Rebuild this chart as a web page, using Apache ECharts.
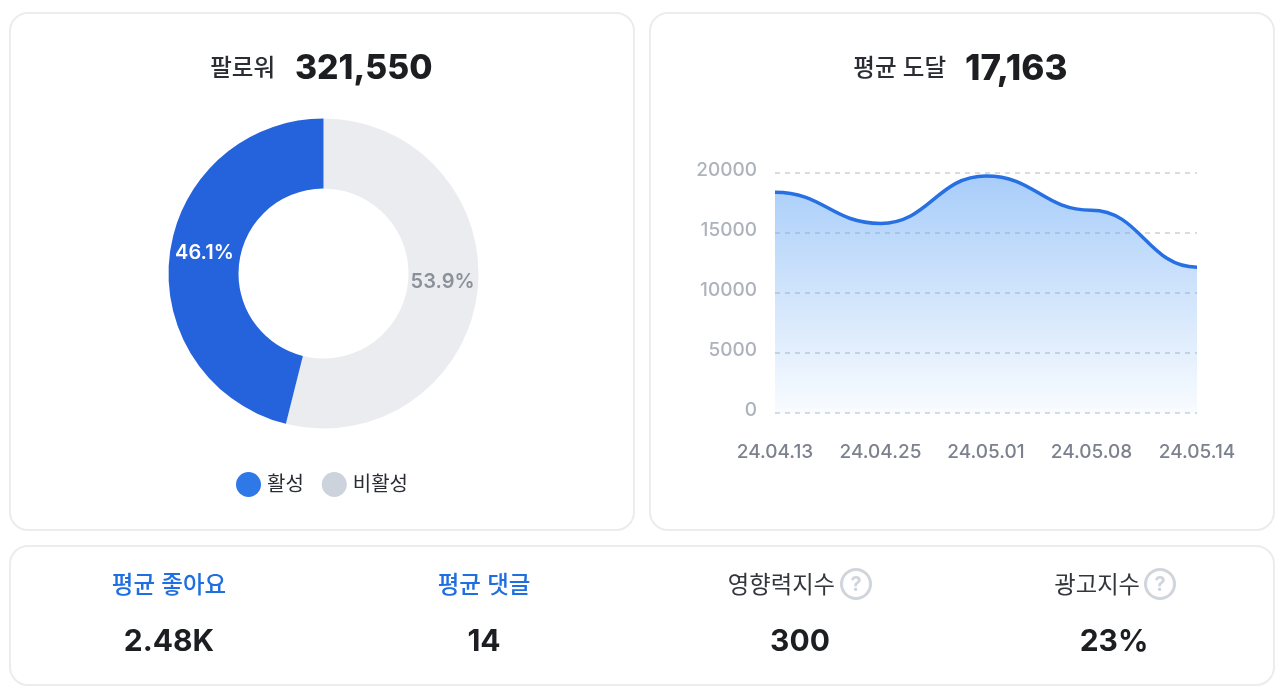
<!DOCTYPE html>
<html><head><meta charset="utf-8">
<style>html,body{margin:0;padding:0;background:#fff}#c{width:1280px;height:688px}</style>
<script src="https://cdn.jsdelivr.net/npm/echarts@6/dist/echarts.min.js"></script>
</head><body><div id="c"></div>
<script>
var FONT = "Inter,'Noto Sans CJK KR',sans-serif";
var pieNames = ['비활성', '활성'];
var pieValues = [53.9, 46.1];
var dates = ['', '24.04.13', '24.04.25', '24.05.01', '24.05.08', '24.05.14', ''];
// first and last entries sit outside the visible axis range and only keep the curve flat at its ends
var reach = [18400, 18400, 15800, 19750, 16900, 12150, 12150];
var yTicks = {min: 0, max: 20000, interval: 5000};

function card(x, y, w, h) {
  return {type: 'rect', silent: true, z: 0, shape: {x: x, y: y, width: w, height: h, r: 18},
    style: {fill: '#fff', stroke: '#ebecef', lineWidth: 2}};
}
function txt(x, y, s, size, weight, color, align) {
  return {type: 'text', silent: true, z: 5, x: x, y: y,
    style: {text: s, font: weight + ' ' + size + 'px ' + FONT, fill: color, align: align || 'center', verticalAlign: 'middle'}};
}
function help(x, y) {
  return [
    {type: 'circle', silent: true, z: 5, shape: {cx: x, cy: y, r: 14.5}, style: {fill: '#fff', stroke: '#d0d5dc', lineWidth: 3}},
    txt(x, y + 1, '?', 20, 700, '#d0d5dc')
  ];
}
function mask(x) {
  return {type: 'rect', silent: true, z: 10, shape: {x: x, y: 165, width: 5, height: 255}, style: {fill: '#fff'}};
}
var graphics = [
  card(10, 13, 624, 517), card(650, 13, 624, 517), card(10, 546, 1264, 139),
  mask(770), mask(1197),
  txt(275, 69, '팔로워', 23.5, 500, '#2a2d33', 'right'),
  txt(295, 69, '321,550', 33.7, 800, '#1c1e22', 'left'),
  txt(946, 69, '평균 도달', 23.5, 500, '#2a2d33', 'right'),
  txt(965, 69, '17,163', 35, 800, '#1c1e22', 'left'),
  txt(169, 586, '평균 좋아요', 23.5, 500, '#1f6fe0'),
  txt(484, 586, '평균 댓글', 23.5, 500, '#1f6fe0'),
  txt(835, 586, '영향력지수', 23.3, 400, '#33363c', 'right'),
  txt(1140, 586, '광고지수', 23.3, 400, '#33363c', 'right'),
  txt(169, 642, '2.48K', 30, 700, '#1c1e22'),
  txt(484, 642, '14', 30, 700, '#1c1e22'),
  txt(800, 642, '300', 30, 700, '#1c1e22'),
  txt(1114, 642, '23%', 30, 700, '#1c1e22')
].concat(help(856, 584), help(1160, 584));

var chart = echarts.init(document.getElementById('c'), null, {renderer: 'canvas'});
chart.setOption({
  animation: false,
  textStyle: {fontFamily: FONT},
  graphic: {elements: graphics},
  legend: {
    left: 236, top: 472, padding: 0, orient: 'horizontal', icon: 'circle', itemWidth: 25, itemHeight: 25, itemGap: 18,
    selectedMode: false,
    textStyle: {fontFamily: FONT, fontSize: 20, color: '#2a2d33', padding: [0, 0, 0, 1]},
    data: [
      {name: '활성', itemStyle: {color: '#2f78e8'}},
      {name: '비활성', itemStyle: {color: '#cdd3dc'}}
    ]
  },
  grid: {left: 775, top: 173, width: 422, height: 240, containLabel: false},
  xAxis: {
    type: 'category', boundaryGap: false, data: dates, min: 1, max: 5,
    axisLine: {show: false}, axisTick: {show: false},
    axisLabel: {interval: 0, color: '#7c828d', fontSize: 19, fontWeight: 500, margin: 30, fontFamily: FONT}
  },
  yAxis: {
    type: 'value', min: yTicks.min, max: yTicks.max, interval: yTicks.interval,
    axisLine: {show: false}, axisTick: {show: false},
    axisLabel: {
      color: '#adb2bd', fontSize: 19, fontWeight: 500, margin: 18, fontFamily: FONT,
      verticalAlign: 'bottom', lineHeight: 6,
      formatter: function (v) { return String(v); }
    },
    splitLine: {show: true, lineStyle: {color: '#d8dbe1', type: [5, 5], width: 2}}
  },
  series: [
    {
      type: 'pie', center: [323.5, 273.5], radius: [85, 155], startAngle: 90, clockwise: true, silent: true,
      data: pieNames.map(function (n, i) {
        var on = n === '활성';
        return {
          name: n, value: pieValues[i],
          itemStyle: {color: on ? '#2563dd' : '#ebecf0'},
          label: {color: on ? '#ffffff' : '#8b909a', offset: on ? [3, -5] : [-3, -7]}
        };
      }),
      label: {show: true, position: 'inside', formatter: '{c}%', fontSize: 20, fontWeight: 600, fontFamily: FONT},
      labelLine: {show: false}
    },
    {
      type: 'line', data: reach, smooth: 0.46, smoothMonotone: 'x', showSymbol: false, silent: true, z: 3,
      clip: true,
      lineStyle: {color: '#2670e3', width: 3.5},
      areaStyle: {opacity: 1, color: new echarts.graphic.LinearGradient(0, 0, 0, 1, [
        {offset: 0, color: 'rgba(97,164,244,0.55)'}, {offset: 1, color: 'rgba(97,164,244,0.04)'}
      ])}
    }
  ]
});
</script></body></html>
